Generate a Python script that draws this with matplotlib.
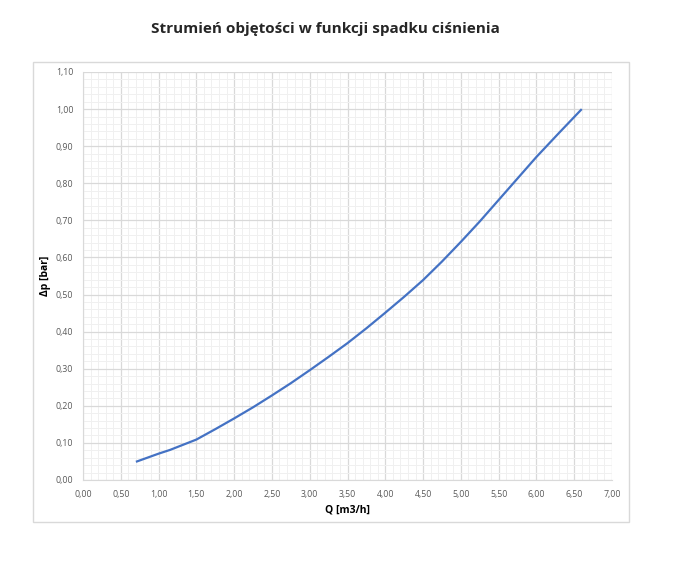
import numpy as np
import matplotlib.pyplot as plt
from matplotlib.patches import Rectangle
from matplotlib.ticker import MultipleLocator, FuncFormatter

# dane
Q = [0.70, 0.85, 1.00, 1.15, 1.30, 1.50, 1.75, 2.00, 2.25, 2.50, 2.75, 3.00, 3.25, 3.50,
     3.75, 4.00, 4.25, 4.50, 4.75, 5.00, 5.25, 5.50, 5.75, 6.00, 6.30, 6.60]
dp = [0.049, 0.060, 0.071, 0.081, 0.093, 0.109, 0.137, 0.166, 0.196, 0.228, 0.261, 0.296,
      0.332, 0.369, 0.409, 0.451, 0.494, 0.539, 0.589, 0.642, 0.697, 0.755, 0.813, 0.871,
      0.936, 1.000]

title = 'Strumień objętości w funkcji spadku ciśnienia'
xlabel = 'Q [m3/h]'
ylabel = 'Δp [bar]'

plt.rcParams['font.family'] = ['Open Sans', 'DejaVu Sans']

fig = plt.figure(figsize=(6.88, 5.61), dpi=100)
W, H = 688, 561

# ramka obszaru wykresu
fig.patches.append(Rectangle((33 / W, 1 - 522 / H), (629 - 33) / W, (522 - 62) / H,
                             transform=fig.transFigure, fill=False,
                             edgecolor='#d9d9d9', linewidth=1.0))

ax = fig.add_axes([83 / W, 1 - 480 / H, (612 - 83) / W, (480 - 72) / H])
ax.plot(Q, dp, color='#4472c4', linewidth=1.6, solid_capstyle='butt')

ax.set_xlim(0, 7)
ax.set_ylim(0, 1.1)
ax.xaxis.set_major_locator(MultipleLocator(0.5))
ax.xaxis.set_minor_locator(MultipleLocator(0.1))
ax.yaxis.set_major_locator(MultipleLocator(0.1))
ax.yaxis.set_minor_locator(MultipleLocator(0.02))
fmt = FuncFormatter(lambda v, p: f'{v:.2f}'.replace('.', ','))
ax.xaxis.set_major_formatter(fmt)
ax.yaxis.set_major_formatter(fmt)

ax.grid(which='major', color='#d9d9d9', linewidth=0.9)
ax.grid(which='minor', color='#f0f0f0', linewidth=0.7)
ax.set_axisbelow(True)
ax.tick_params(which='both', length=0, labelsize=6.3, labelcolor='#595959', pad=7)
for s in ['top', 'right']:
    ax.spines[s].set_visible(False)
for s in ['left', 'bottom']:
    ax.spines[s].set_color('#d9d9d9')

ax.set_xlabel(xlabel, fontsize=7.5, fontweight='bold', labelpad=4)
ax.set_ylabel(ylabel, fontsize=7.5, fontweight='bold', labelpad=3)
fig.text(325 / W, 1 - 29 / H, title, ha='center', va='center',
         fontsize=11, fontweight='bold', color='#262626')

fig.savefig('out.png', dpi=100, facecolor='white')
